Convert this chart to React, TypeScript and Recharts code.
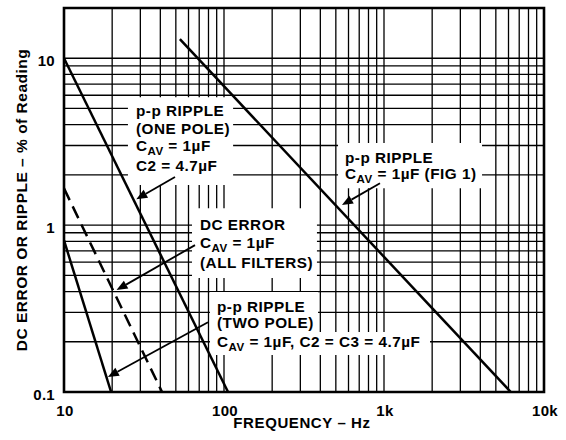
import React from 'react';
import {
  ComposedChart,
  Line,
  XAxis,
  YAxis,
  CartesianGrid,
  ReferenceArea,
  ReferenceLine,
  Label,
} from 'recharts';

// grid / tick values
const xTicks = [
  10, 20, 30, 40, 50, 60, 70, 80, 90,
  100, 200, 300, 400, 500, 600, 700, 800, 900,
  1000, 2000, 3000, 4000, 5000, 6000, 7000, 8000, 9000, 10000,
];
const yTicks = [
  0.1, 0.2, 0.3, 0.4, 0.5, 0.6, 0.7, 0.8, 0.9,
  1, 2, 3, 4, 5, 6, 7, 8, 9, 10, 20,
];
const xLabelValues = [10, 100, 1000, 10000];
const xLabelText = ['10', '100', '1k', '10k'];
const yLabelValues = [0.1, 1, 10];
const yLabelText = ['0.1', '1', '10'];

// curves (frequency in Hz, % of reading)
const fig1Freq = [53, 6200];
const fig1Ripple = [13, 0.1];
const onePoleFreq = [10, 106];
const onePoleRipple = [10, 0.1];
const dcFreq = [10, 41];
const dcError = [1.66, 0.1];
const twoPoleFreq = [10, 19.7];
const twoPoleRipple = [0.81, 0.1];

const toPoints = (fs: number[], vs: number[]) => fs.map((f, i) => ({ f, v: vs[i] }));

const FONT = '"Liberation Sans", Arial, Helvetica, sans-serif';

// annotation boxes (white background behind the notes), in data coords
const notes = [
  {
    x1: 25.1, x2: 114, y1: 1.74, y2: 5.84, padX: 8,
    rows: ['p-p RIPPLE', '(ONE POLE)', 'C_{AV} = 1\u00b5F', 'C2 = 4.7\u00b5F'],
    base: [19, 37, 53.5, 73.5],
  },
  {
    x1: 516, x2: 4100, y1: 1.665, y2: 3.1, padX: 7,
    rows: ['p-p RIPPLE', 'C_{AV} = 1\u00b5F (FIG 1)'],
    base: [20, 36],
  },
  {
    x1: 63.1, x2: 381, y1: 0.482, y2: 1.264, padX: 8,
    rows: ['DC ERROR', 'C_{AV} = 1\u00b5F', '(ALL FILTERS)'],
    base: [22, 40, 60],
  },
  {
    x1: 81.7, x2: 387, y1: 0.2288, y2: 0.397, padX: 7,
    rows: ['p-p RIPPLE', '(TWO POLE)', 'C_{AV} = 1\u00b5F, C2 = C3 = 4.7\u00b5F'],
    base: [20, 36, 54.5],
  },
];
// extra blank strip for the long last line of the two pole note
const extraBoxes = [{ x1: 81.7, x2: 1939, y1: 0.1666, y2: 0.2288 }];

const arrows = [
  { from: { x: 49.4, y: 1.94 }, to: { x: 28.3, y: 1.43 } },
  { from: { x: 944, y: 1.78 }, to: { x: 546, y: 1.318 } },
  { from: { x: 65.9, y: 0.759 }, to: { x: 21.3, y: 0.408 } },
  { from: { x: 79.4, y: 0.262 }, to: { x: 18.8, y: 0.123 } },
];

const renderRow = (row: string) => {
  const parts = row.split(/(_\{[^}]+\})/).filter((p) => p.length);
  let shifted = false;
  return parts.map((p, i) => {
    if (p.startsWith('_{')) {
      shifted = true;
      return (
        <tspan key={i} fontSize={11.5} dy={4}>
          {p.slice(2, -1)}
        </tspan>
      );
    }
    const dy = shifted ? -4 : 0;
    shifted = false;
    return (
      <tspan key={i} dy={dy}>
        {p}
      </tspan>
    );
  });
};

const noteContent = (rows: string[], base: number[], padX: number) => (props: any) => {
  const vb = props.viewBox ?? props;
  return (
    <g>
      {rows.map((r, i) => (
        <text
          key={i}
          x={vb.x + padX}
          y={vb.y + base[i]}
          fontSize={15.3}
          fontWeight={700}
          fontFamily={FONT}
          letterSpacing={0.5}
          fill="#000"
        >
          {renderRow(r)}
        </text>
      ))}
    </g>
  );
};

const Arrow = (props: any) => {
  const { x1, y1, x2, y2 } = props;
  const ang = Math.atan2(y2 - y1, x2 - x1);
  const L = 11;
  const W = 4.5;
  const bx = x2 - L * Math.cos(ang);
  const by = y2 - L * Math.sin(ang);
  const px = -Math.sin(ang) * W;
  const py = Math.cos(ang) * W;
  return (
    <g>
      <line x1={x1} y1={y1} x2={bx} y2={by} stroke="#000" strokeWidth={1.8} />
      <polygon
        points={`${x2},${y2} ${bx + px},${by + py} ${bx - px},${by - py}`}
        fill="#000"
      />
    </g>
  );
};

const XTick = (props: any) => {
  const { x, y, payload } = props;
  const idx = xLabelValues.indexOf(payload.value);
  if (idx < 0) return <g />;
  return (
    <text x={x + 1} y={y + 24} textAnchor="middle" fontSize={15} fontWeight={700} fontFamily={FONT} letterSpacing={0.3} fill="#000">
      {xLabelText[idx]}
    </text>
  );
};

const YTick = (props: any) => {
  const { x, y, payload } = props;
  const idx = yLabelValues.indexOf(payload.value);
  if (idx < 0) return <g />;
  return (
    <text x={x - 9} y={y + 7.5} textAnchor="end" fontSize={15} fontWeight={700} fontFamily={FONT} letterSpacing={0.3} fill="#000">
      {yLabelText[idx]}
    </text>
  );
};

export default function App() {
  return (
    <div style={{ position: 'absolute', left: 0, top: 0, background: '#fff' }}>
      <ComposedChart width={566} height={440} margin={{ top: 8, right: 22, bottom: 0, left: 0 }}>
        <CartesianGrid stroke="#000" strokeWidth={1.3} />
        <XAxis
          dataKey="f"
          type="number"
          scale="log"
          domain={[10, 10000]}
          ticks={xTicks}
          interval={0}
          allowDataOverflow
          axisLine={false}
          tickLine={false}
          tickSize={0}
          tickMargin={0}
          height={48}
          tick={<XTick />}
        >
          <Label
            content={(p: any) => (
              <text
                x={p.viewBox.x + p.viewBox.width / 2 - 2}
                y={p.viewBox.y + 36}
                textAnchor="middle"
                fontSize={15}
                fontWeight={700}
                fontFamily={FONT}
                letterSpacing={0.6}
                fill="#000"
              >
                FREQUENCY – Hz
              </text>
            )}
          />
        </XAxis>
        <YAxis
          dataKey="v"
          type="number"
          scale="log"
          domain={[0.1, 20]}
          ticks={yTicks}
          interval={0}
          allowDataOverflow
          axisLine={false}
          tickLine={false}
          tickSize={0}
          tickMargin={0}
          width={64}
          tick={<YTick />}
        >
          <Label
            content={(p: any) => {
              const cx = 27;
              const cy = p.viewBox.y + p.viewBox.height / 2;
              return (
                <text
                  x={cx}
                  y={cy}
                  transform={`rotate(-90, ${cx}, ${cy})`}
                  textAnchor="middle"
                  fontSize={15.5}
                  fontWeight={700}
                  fontFamily={FONT}
                  letterSpacing={0.5}
                  fill="#000"
                >
                  DC ERROR OR RIPPLE – % of Reading
                </text>
              );
            }}
          />
        </YAxis>

        {extraBoxes.map((b, i) => (
          <ReferenceArea key={'e' + i} x1={b.x1} x2={b.x2} y1={b.y1} y2={b.y2} fill="#fff" fillOpacity={1} stroke="none" />
        ))}
        {notes.map((n, i) => (
          <ReferenceArea
            key={'n' + i}
            x1={n.x1}
            x2={n.x2}
            y1={n.y1}
            y2={n.y2}
            fill="#fff"
            fillOpacity={1}
            stroke="none"
            label={noteContent(n.rows, n.base, n.padX)}
          />
        ))}

        <Line data={toPoints(fig1Freq, fig1Ripple)} dataKey="v" type="linear" stroke="#000" strokeWidth={2.5} dot={false} isAnimationActive={false} />
        <Line data={toPoints(onePoleFreq, onePoleRipple)} dataKey="v" type="linear" stroke="#000" strokeWidth={2.5} dot={false} isAnimationActive={false} />
        <Line data={toPoints(dcFreq, dcError)} dataKey="v" type="linear" stroke="#000" strokeWidth={2.5} strokeDasharray="13 7" dot={false} isAnimationActive={false} />
        <Line data={toPoints(twoPoleFreq, twoPoleRipple)} dataKey="v" type="linear" stroke="#000" strokeWidth={2.5} dot={false} isAnimationActive={false} />

        {arrows.map((a, i) => (
          <ReferenceLine key={'a' + i} segment={[a.from, a.to]} shape={(p: any) => <Arrow {...p} />} />
        ))}

        <ReferenceArea x1={10} x2={10000} y1={0.1} y2={20} fill="none" stroke="#000" strokeWidth={2.6} />
      </ComposedChart>
    </div>
  );
}
